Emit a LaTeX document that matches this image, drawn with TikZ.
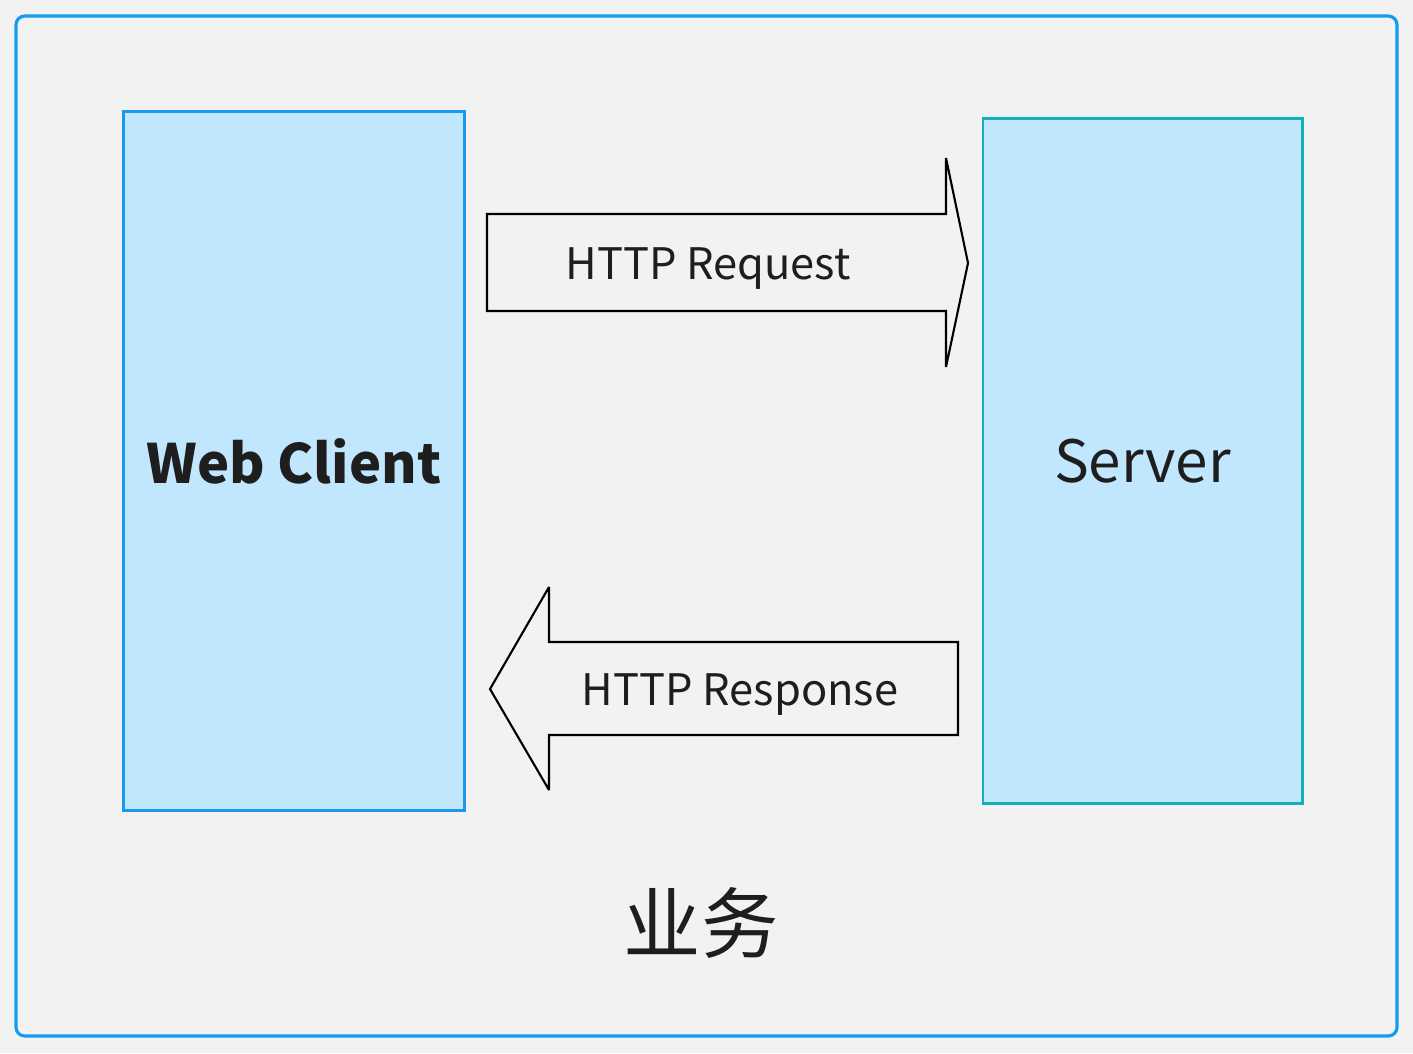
\documentclass[tikz,border=0pt]{standalone}
\usepackage{fontspec}
\setmainfont{Noto Sans CJK SC}
\usetikzlibrary{positioning}

\definecolor{bggrey}{HTML}{F2F2F2}
\definecolor{frameblue}{HTML}{139CF0}
\definecolor{clientblue}{HTML}{1E98EA}
\definecolor{serverteal}{HTML}{12B0B8}
\definecolor{peerfill}{HTML}{C0E7FD}
\definecolor{inkdark}{HTML}{1E1E1E}

\begin{document}
\begin{tikzpicture}[
  x=0.01cm, y=-0.01cm,
  % --- frame and boxes ---
  frame/.style={draw=frameblue, line width=0.9pt, fill=bggrey, rounded corners=2.5pt},
  peer/.style={fill=peerfill, line width=0.8pt, inner sep=0pt, text=inkdark},
  % --- flow arrows ---
  flow/.style={draw=black, line width=0.6pt, fill=bggrey, line join=miter, miter limit=2},
  flowtxt/.style={font=\fontsize{12.35}{15}\selectfont, text=inkdark, anchor=base},
  % --- caption ---
  captxt/.style={font=\fontsize{22}{26}\selectfont, text=inkdark},
]

\fill[bggrey] (0,0) rectangle (1413,1053);
\useasboundingbox (0,0) rectangle (1413,1053);

% ===================== FRAME =====================

\draw[frame] (16,16) rectangle (1397,1036);

% ===================== PEERS =====================

\node[peer, draw=clientblue, minimum width=3.40cm, minimum height=6.98cm,
  font=\fontsize{15.4}{18}\selectfont\bfseries]
  (client) at (294,461) {Web Client};
\node[peer, draw=serverteal, minimum width=3.19cm, minimum height=6.84cm,
  font=\fontsize{16.6}{20}\selectfont]
  (server) at (1142.5,461) {Server};

% ===================== REQUEST =====================

\draw[flow] (487,214) -- (946,214) -- (946,158) -- (968,263)
  -- (946,367) -- (946,311) -- (487,311) -- cycle;
\node[flowtxt] (req) at (708,279) {HTTP Request};

% ===================== RESPONSE =====================

\draw[flow] (958,642) -- (549,642) -- (549,587) -- (490,689)
  -- (549,790) -- (549,735) -- (958,735) -- cycle;
\node[flowtxt] (resp) at (740,705) {HTTP Response};

% ===================== CAPTION =====================

\node[captxt] (biz) at (701,923) {业务};

\end{tikzpicture}
\end{document}
